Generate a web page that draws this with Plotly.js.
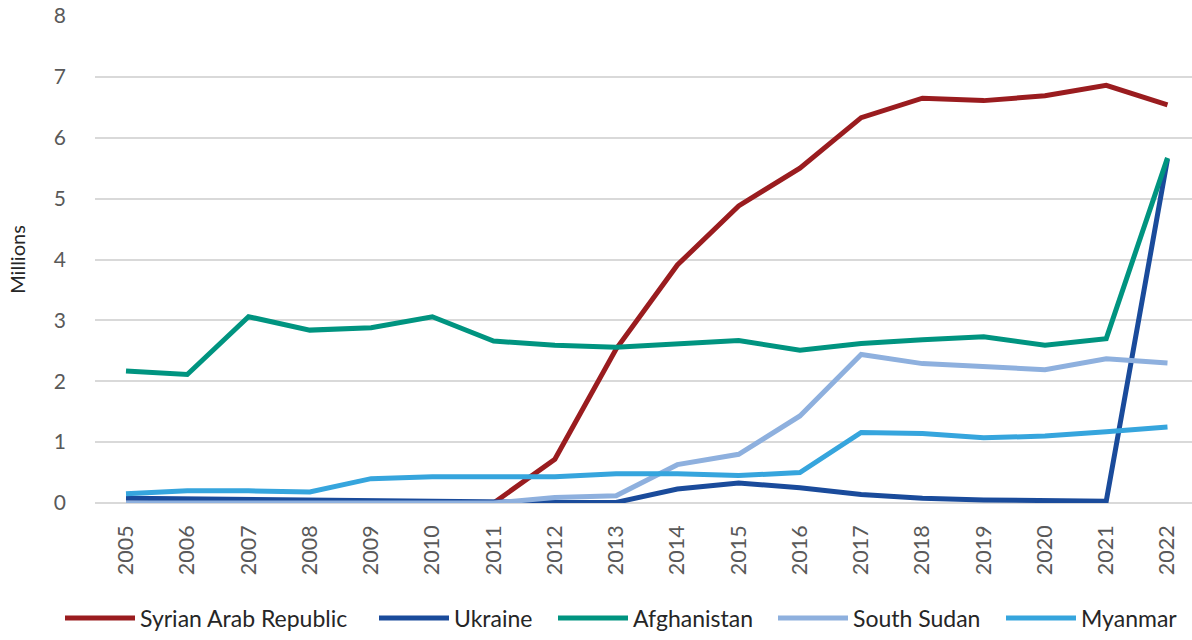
<!DOCTYPE html>
<html>
<head>
<meta charset="utf-8">
<script src="https://cdn.plot.ly/plotly-3.0.1.min.js"></script>
<style>html,body{margin:0;padding:0;background:#fff;}#chart{width:1192px;height:640px;}</style>
</head>
<body>
<div id="chart"></div>
<script>
const years = ["2005","2006","2007","2008","2009","2010","2011","2012","2013","2014","2015","2016","2017","2018","2019","2020","2021","2022"];
const syria = [0,0,0,0,0,0,0,0.72,2.53,3.91,4.88,5.5,6.33,6.65,6.61,6.69,6.86,6.54];
const ukraine = [0.08,0.07,0.04,0.03,0.02,0.02,0.02,0.01,0.01,0.23,0.33,0.25,0.14,0.08,0.05,0.03,0.03,5.65];
const afghanistan = [2.17,2.11,3.06,2.84,2.88,3.06,2.66,2.59,2.56,2.61,2.67,2.51,2.62,2.68,2.73,2.59,2.70,5.67];
const southSudan = [0,0,0,0,0,0,0,0.09,0.12,0.63,0.80,1.43,2.44,2.29,2.23,2.19,2.37,2.30];
const myanmar = [0.15,0.20,0.20,0.18,0.40,0.43,0.43,0.43,0.48,0.48,0.45,0.50,1.16,1.14,1.07,1.10,1.17,1.25];
const names = ["Syrian Arab Republic","Ukraine","Afghanistan","South Sudan","Myanmar"];
const colors = ["#9a1c1f","#1a4b9b","#009480","#8eb0de","#36a5dd"];
const series = [syria, ukraine, afghanistan, southSudan, myanmar];

const legendKeys = ["legend","legend2","legend3","legend4","legend5"];
const legendLineStart = [65, 379, 558, 778, 1006];
const plotL = 95, plotW = 1097, plotT = 16, plotH = 491;

const traces = series.map((s, i) => ({
  x: years, y: s, name: names[i], type: "scatter", mode: "lines",
  line: {color: colors[i], width: 5},
  legend: legendKeys[i]
}));

const layout = {
  width: 1192, height: 640,
  margin: {l: plotL, r: 1192 - plotL - plotW, t: plotT, b: 640 - plotT - plotH},
  paper_bgcolor: "#fff", plot_bgcolor: "#fff",
  font: {family: "Lato, sans-serif", color: "#595959", size: 18},
  showlegend: true,
  xaxis: {
    type: "category", range: [-0.506, 17.4],
    tickangle: -90, showgrid: false, showline: false, ticks: "",
    ticklabelstandoff: 17,
    tickfont: {size: 21.5, color: "#595959"}, fixedrange: true
  },
  yaxis: {
    range: [0, 8], dtick: 1, showgrid: true, gridcolor: "#d9d9d9", gridwidth: 2,
    zeroline: true, zerolinecolor: "#d9d9d9", zerolinewidth: 2,
    showline: false, ticks: "", ticklabelstandoff: 28,
    tickfont: {size: 21, color: "#595959"},
    title: {text: "Millions", font: {size: 20, color: "#262626"}, standoff: 22},
    fixedrange: true
  }
};
legendKeys.forEach((k, i) => {
  layout[k] = {
    orientation: "h", xref: "paper", yref: "paper",
    x: (legendLineStart[i] - 5 - plotL) / plotW, xanchor: "left",
    y: (plotT + plotH - 623) / plotH, yanchor: "middle",
    itemwidth: 70, bgcolor: "rgba(0,0,0,0)",
    font: {size: 23, color: "#262626"}
  };
});

Plotly.newPlot("chart", traces, layout, {displayModeBar: false, staticPlot: true});
</script>
</body>
</html>
